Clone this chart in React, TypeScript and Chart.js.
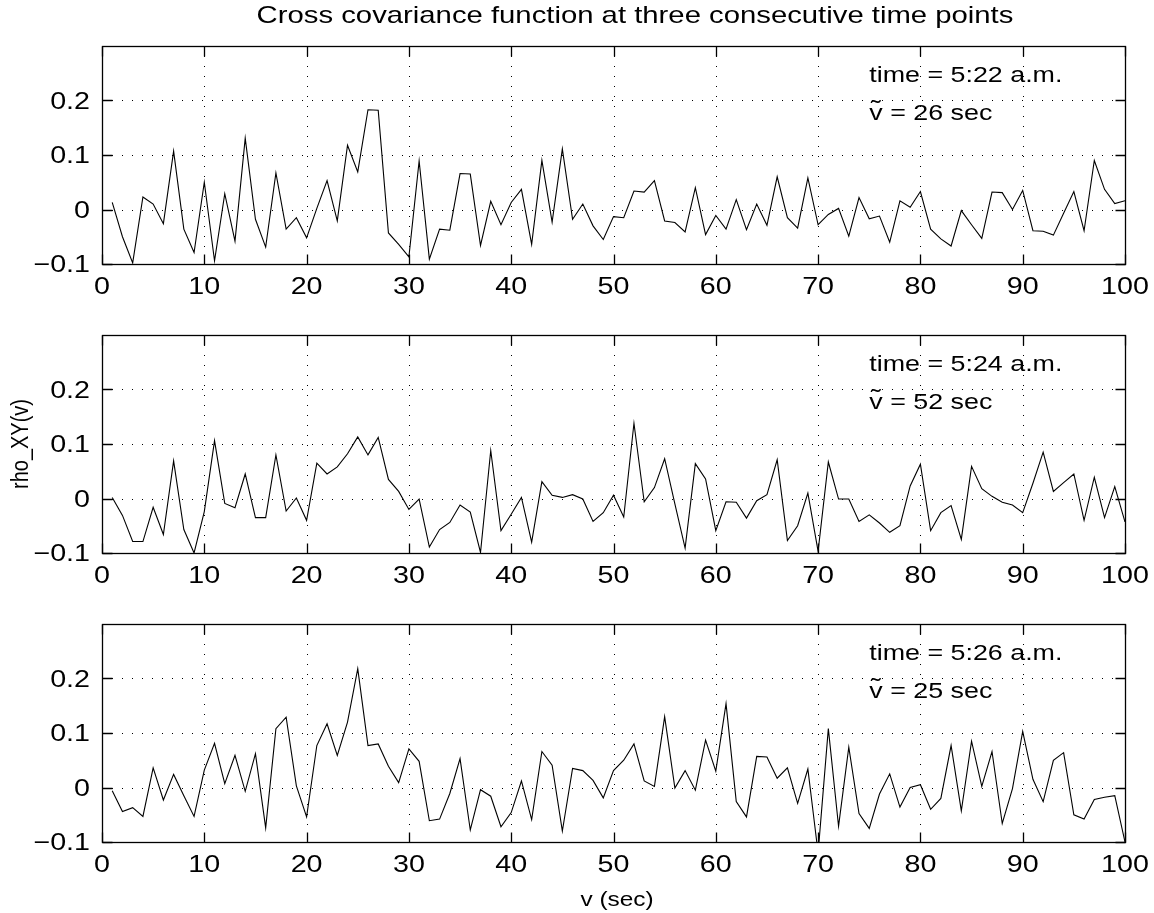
import React, { useEffect, useRef } from "react";
import { Chart, registerables } from "chart.js";

Chart.register(...registerables);

// ---------- data ----------
const lagSeconds: number[] = Array.from({ length: 100 }, (_, i) => i + 1);

const rho0522: number[] = [
  0.013, -0.05, -0.098, 0.023, 0.01, -0.026, 0.107, -0.036, -0.079, 0.05,
  -0.094, 0.029, -0.058, 0.131, -0.018, -0.069, 0.067, -0.036, -0.015, -0.052,
  0.002, 0.053, -0.021, 0.118, 0.069, 0.183, 0.182, -0.043, -0.064, -0.087,
  0.089, -0.091, -0.036, -0.038, 0.066, 0.065, -0.066, 0.015, -0.028, 0.013,
  0.037, -0.064, 0.09, -0.023, 0.111, -0.018, 0.01, -0.03, -0.055, -0.013,
  -0.015, 0.034, 0.032, 0.053, -0.021, -0.024, -0.041, 0.04, -0.046, -0.011,
  -0.036, 0.018, -0.037, 0.01, -0.029, 0.06, -0.015, -0.034, 0.058, -0.028,
  -0.009, 0.002, -0.049, 0.022, -0.017, -0.012, -0.06, 0.016, 0.004, 0.033,
  -0.036, -0.054, -0.067, -0.002, -0.028, -0.053, 0.032, 0.031, 0.0, 0.035,
  -0.039, -0.04, -0.047, -0.007, 0.033, -0.039, 0.09, 0.037, 0.011, 0.016,
];

const rho0524: number[] = [
  0.002, -0.031, -0.079, -0.079, -0.016, -0.066, 0.069, -0.057, -0.1, -0.024,
  0.106, -0.009, -0.017, 0.045, -0.035, -0.035, 0.08, -0.023, 0.001, -0.04,
  0.065, 0.045, 0.058, 0.082, 0.113, 0.08, 0.112, 0.035, 0.013, -0.02,
  -0.001, -0.089, -0.057, -0.044, -0.012, -0.025, -0.099, 0.088, -0.059, -0.029,
  0.002, -0.08, 0.031, 0.006, 0.002, 0.007, -0.001, -0.042, -0.026, 0.006,
  -0.034, 0.138, -0.006, 0.02, 0.073, -0.01, -0.091, 0.064, 0.036, -0.059,
  -0.006, -0.007, -0.036, -0.004, 0.007, 0.071, -0.077, -0.05, 0.01, -0.097,
  0.067, -0.001, -0.001, -0.042, -0.03, -0.045, -0.062, -0.05, 0.023, 0.063,
  -0.059, -0.026, -0.013, -0.075, 0.059, 0.018, 0.004, -0.007, -0.012, -0.026,
  0.028, 0.085, 0.013, 0.029, 0.045, -0.04, 0.039, -0.035, 0.022, -0.043,
];

const rho0526: number[] = [
  -0.006, -0.044, -0.037, -0.053, 0.036, -0.023, 0.024, -0.015, -0.053, 0.032,
  0.081, 0.007, 0.059, -0.007, 0.062, -0.074, 0.108, 0.129, 0.003, -0.054,
  0.077, 0.117, 0.059, 0.12, 0.218, 0.077, 0.08, 0.039, 0.009, 0.071,
  0.048, -0.061, -0.058, -0.011, 0.053, -0.078, -0.004, -0.016, -0.072, -0.046,
  0.012, -0.059, 0.066, 0.041, -0.08, 0.035, 0.031, 0.013, -0.019, 0.031,
  0.05, 0.08, 0.012, 0.002, 0.13, -0.001, 0.031, -0.005, 0.087, 0.03,
  0.154, -0.026, -0.054, 0.057, 0.056, 0.017, 0.036, -0.029, 0.034, -0.12,
  0.108, -0.071, 0.074, -0.048, -0.075, -0.012, 0.025, -0.036, 0.0, 0.005,
  -0.04, -0.02, 0.077, -0.043, 0.085, 0.002, 0.066, -0.066, -0.002, 0.103,
  0.015, -0.026, 0.05, 0.064, -0.05, -0.058, -0.022, -0.018, -0.015, -0.1,
];

const xTickValues: number[] = [0, 10, 20, 30, 40, 50, 60, 70, 80, 90, 100];
const xTickLabels: string[] = ["0", "10", "20", "30", "40", "50", "60", "70", "80", "90", "100"];
const yTickValues: number[] = [-0.1, 0, 0.1, 0.2];
const yTickLabels: string[] = ["\u22120.1", "0", "0.1", "0.2"];
const timeLabels: string[] = ["5:22 a.m.", "5:24 a.m.", "5:26 a.m."];
const vTildeSeconds: number[] = [26, 52, 25];
const seriesList: number[][] = [rho0522, rho0524, rho0526];

const titleText = "Cross covariance function at three consecutive time points";
const yAxisTitle = "rho_XY(v)";
const xAxisTitle = "v (sec)";

// ---------- style / layout ----------
const FONT = '"Liberation Sans", Arial, Helvetica, sans-serif';
const SX = 1.22; // horizontal stretch of text in the reference
const TICK_SIZE = 23.5;
const ANN_SIZE = 22;
const TITLE_SIZE = 24;
const LABEL_SIZE = 20;
const W = 1154;

const panelLayout = [
  { top: 0, height: 300, padTop: 46, axisH: 36 },
  { top: 300, height: 290, padTop: 35, axisH: 37 },
  { top: 590, height: 323, padTop: 34, axisH: 71 },
];

function drawText(
  ctx: CanvasRenderingContext2D,
  text: string,
  x: number,
  y: number,
  size: number,
  align: CanvasTextAlign,
  baseline: CanvasTextBaseline,
  rotated = false
) {
  ctx.save();
  ctx.translate(x, y);
  if (rotated) {
    ctx.rotate(-Math.PI / 2);
    ctx.scale(1, SX);
  } else {
    ctx.scale(SX, 1);
  }
  ctx.font = `${size}px ${FONT}`;
  ctx.fillStyle = "#000";
  ctx.textAlign = align;
  ctx.textBaseline = baseline;
  ctx.fillText(text, 0, 0);
  ctx.restore();
}

const matlabAxesPlugin = {
  id: "matlabAxes",
  beforeDatasetsDraw(chart: any) {
    const { ctx, chartArea: a, scales } = chart;
    const xs = scales.x;
    const ys = scales.y;
    ctx.save();
    ctx.strokeStyle = "#000";
    ctx.lineWidth = 1;
    ctx.setLineDash([1, 9]);
    for (const t of xs.ticks) {
      if (t.value <= xs.min || t.value >= xs.max) continue;
      const px = Math.round(xs.getPixelForValue(t.value)) + 0.5;
      ctx.beginPath();
      ctx.moveTo(px, a.top);
      ctx.lineTo(px, a.bottom);
      ctx.stroke();
    }
    for (const t of ys.ticks) {
      if (t.value <= ys.min + 1e-9 || t.value >= ys.max - 1e-9) continue;
      const py = Math.round(ys.getPixelForValue(t.value)) + 0.5;
      ctx.beginPath();
      ctx.moveTo(a.left, py);
      ctx.lineTo(a.right, py);
      ctx.stroke();
    }
    ctx.restore();
  },
  afterDatasetsDraw(chart: any, _args: any, opts: any) {
    const { ctx, chartArea: a, scales } = chart;
    const xs = scales.x;
    const ys = scales.y;
    const L = Math.round(a.left) + 0.5;
    const R = Math.round(a.right) + 0.5;
    const T = Math.round(a.top) + 0.5;
    const B = Math.round(a.bottom) + 0.5;
    ctx.save();
    ctx.strokeStyle = "#000";
    ctx.lineWidth = 1.3;
    ctx.setLineDash([]);
    ctx.strokeRect(L, T, R - L, B - T);
    const tl = 10;
    ctx.beginPath();
    for (const t of xs.ticks) {
      const px = Math.round(xs.getPixelForValue(t.value)) + 0.5;
      ctx.moveTo(px, B);
      ctx.lineTo(px, B - tl);
      ctx.moveTo(px, T);
      ctx.lineTo(px, T + tl);
    }
    for (const t of ys.ticks) {
      const py = Math.round(ys.getPixelForValue(t.value)) + 0.5;
      ctx.moveTo(L, py);
      ctx.lineTo(L + tl, py);
      ctx.moveTo(R, py);
      ctx.lineTo(R - tl, py);
    }
    ctx.stroke();
    ctx.restore();

    // tick labels
    xTickValues.forEach((v, i) => {
      drawText(ctx, xTickLabels[i], xs.getPixelForValue(v), a.bottom + 30, TICK_SIZE, "center", "alphabetic");
    });
    yTickValues.forEach((v, i) => {
      drawText(ctx, yTickLabels[i], a.left - 12, ys.getPixelForValue(v) + 0.36 * TICK_SIZE, TICK_SIZE, "right", "alphabetic");
    });

    // annotation
    const ax = xs.getPixelForValue(75);
    drawText(ctx, "time = " + opts.time, ax, a.top + 36, ANN_SIZE, "left", "alphabetic");
    const line2 = "v = " + opts.vt + " sec";
    const b2 = a.top + 74;
    drawText(ctx, line2, ax, b2, ANN_SIZE, "left", "alphabetic");
    ctx.save();
    ctx.font = `${ANN_SIZE}px ${FONT}`;
    const vw = ctx.measureText("v").width * SX;
    ctx.restore();
    drawText(ctx, "\u02DC", ax + vw / 2, b2 - 3, ANN_SIZE + 2, "center", "alphabetic");

    if (opts.showTitle) {
      drawText(ctx, titleText, 635, 22.5, TITLE_SIZE, "center", "alphabetic");
    }
    if (opts.showYTitle) {
      drawText(ctx, yAxisTitle, 21, (a.top + a.bottom) / 2, LABEL_SIZE, "center", "middle", true);
    }
    if (opts.showXTitle) {
      drawText(ctx, xAxisTitle, 617, chart.height - 13, LABEL_SIZE, "center", "middle");
    }
  },
};

function Panel({ index }: { index: number }) {
  const ref = useRef<HTMLCanvasElement>(null);
  const lay = panelLayout[index];
  useEffect(() => {
    const values = seriesList[index];
    const chart = new Chart(ref.current as HTMLCanvasElement, {
      type: "line",
      data: {
        datasets: [
          {
            data: lagSeconds.map((x, i) => ({ x, y: values[i] })),
            borderColor: "#000",
            borderWidth: 1.1,
            pointRadius: 0,
            tension: 0,
            fill: false,
            clip: 0,
          } as any,
        ],
      },
      options: {
        animation: false,
        responsive: false,
        maintainAspectRatio: false,
        devicePixelRatio: 1,
        events: [],
        layout: { padding: { top: lay.padTop, right: 29, left: 0, bottom: 0 } },
        plugins: {
          legend: { display: false },
          tooltip: { enabled: false },
          title: { display: false },
          matlabAxes: {
            time: timeLabels[index],
            vt: vTildeSeconds[index],
            showTitle: index === 0,
            showYTitle: index === 1,
            showXTitle: index === 2,
          },
        } as any,
        scales: {
          x: {
            type: "linear",
            min: 0,
            max: 100,
            grid: { display: false, drawTicks: false },
            border: { display: false },
            ticks: { display: false },
            afterBuildTicks: (s: any) => {
              s.ticks = xTickValues.map((v) => ({ value: v }));
            },
            afterFit: (s: any) => {
              s.height = lay.axisH;
            },
          },
          y: {
            type: "linear",
            min: -0.1,
            max: 0.3,
            grid: { display: false, drawTicks: false },
            border: { display: false },
            ticks: { display: false },
            afterBuildTicks: (s: any) => {
              s.ticks = yTickValues.map((v) => ({ value: v }));
            },
            afterFit: (s: any) => {
              s.width = 102;
            },
          },
        } as any,
      },
      plugins: [matlabAxesPlugin as any],
    });
    return () => chart.destroy();
  }, [index]);
  return (
    <canvas
      ref={ref}
      width={W}
      height={lay.height}
      style={{ position: "absolute", left: 0, top: lay.top, width: W, height: lay.height }}
    />
  );
}

export default function App() {
  return (
    <div style={{ position: "absolute", left: 0, top: 0, width: W, height: 913, background: "#fff" }}>
      <Panel index={0} />
      <Panel index={1} />
      <Panel index={2} />
    </div>
  );
}
